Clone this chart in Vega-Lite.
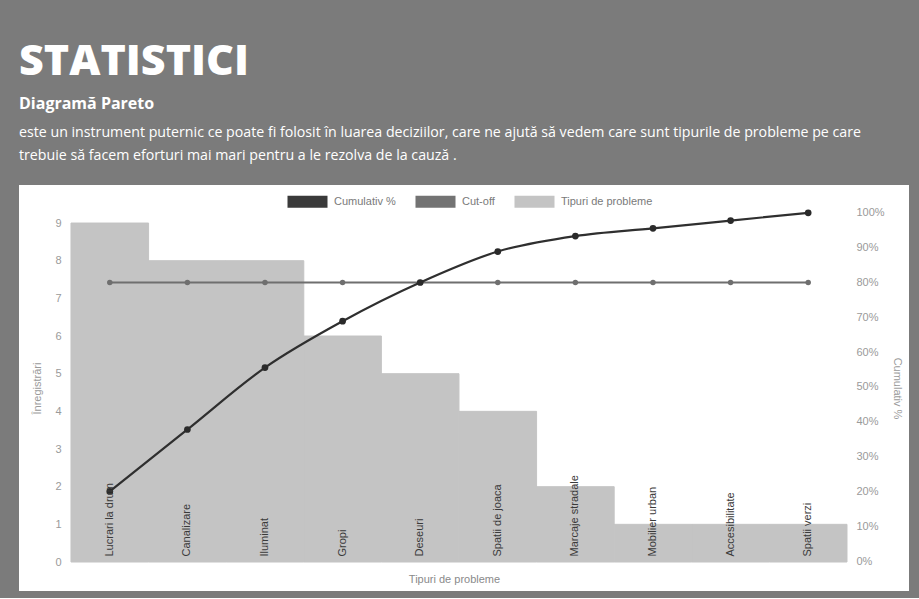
{
  "$schema": "https://vega.github.io/schema/vega-lite/v6.json",
  "background": "#7b7b7b",
  "padding": {"left": 19, "top": 40, "right": 10, "bottom": 7},
  "title": {"text": "STATISTICI", "anchor": "start", "font": "Open Sans", "fontSize": 43, "fontWeight": 800, "color": "#ffffff", "offset": 12, "baseline": "top"},
  "config": {"view": {"fill": "#ffffff", "stroke": null}, "concat": {"spacing": 0}},
  "vconcat": [
    {
      "title": {
        "text": "Diagramă Pareto",
        "subtitle": ["este un instrument puternic ce poate fi folosit în luarea deciziilor, care ne ajută să vedem care sunt tipurile de probleme pe care", "trebuie să facem eforturi mai mari pentru a le rezolva de la cauză ."],
        "anchor": "start", "baseline": "top", "font": "Open Sans", "fontSize": 16, "fontWeight": 700, "color": "#ffffff",
        "subtitleFont": "Open Sans", "subtitleFontSize": 14.2, "subtitleColor": "#ffffff", "subtitleLineHeight": 23, "subtitlePadding": 14, "offset": 22
      },
      "width": 890,
      "height": 406,
      "data": {"values": [
        {"cat": "Lucrari la drum", "count": 9, "cum": 20.0, "cut": 80},
        {"cat": "Canalizare", "count": 8, "cum": 37.78, "cut": 80},
        {"cat": "Iluminat", "count": 8, "cum": 55.56, "cut": 80},
        {"cat": "Gropi", "count": 6, "cum": 68.89, "cut": 80},
        {"cat": "Deseuri", "count": 5, "cum": 80.0, "cut": 80},
        {"cat": "Spatii de joaca", "count": 4, "cum": 88.89, "cut": 80},
        {"cat": "Marcaje stradale", "count": 2, "cum": 93.33, "cut": 80},
        {"cat": "Mobilier urban", "count": 1, "cum": 95.56, "cut": 80},
        {"cat": "Accesibilitate", "count": 1, "cum": 97.78, "cut": 80},
        {"cat": "Spatii verzi", "count": 1, "cum": 100.0, "cut": 80}
      ]},
      "encoding": {
        "x": {
          "field": "cat", "type": "nominal", "sort": null,
          "scale": {"paddingInner": 0, "paddingOuter": 0.7345, "align": 0.456},
          "axis": {
            "orient": "bottom", "offset": -29, "zindex": 1, "labelAngle": -90, "labelAlign": "left", "labelBaseline": "middle", "labelPadding": -6,
            "ticks": false, "domain": false, "grid": false, "labelOverlap": false, "labelLimit": 0,
            "labelFont": "Liberation Sans", "labelFontSize": 11, "labelColor": "#3a3a3a",
            "title": "Tipuri de probleme", "titleFont": "Liberation Sans", "titleFontSize": 11, "titleFontWeight": "normal", "titleColor": "#8a8a8a",
            "titleX": 435, "titleY": 17, "titleAlign": "center", "titleBaseline": "middle"
          }
        }
      },
      "layer": [
        {
          "mark": {"type": "bar", "stroke": "#c4c4c4", "strokeWidth": 1},
          "encoding": {
            "y": {
              "field": "count", "type": "quantitative",
              "scale": {"domain": [-0.77, 10.01], "nice": false, "zero": false},
              "axis": {
                "orient": "left", "offset": -50, "values": [0, 1, 2, 3, 4, 5, 6, 7, 8, 9], "grid": false, "domain": false, "ticks": false,
                "labelPadding": 8, "labelFont": "Liberation Sans", "labelFontSize": 11, "labelColor": "#9a9a9a",
                "title": "Înregistrări", "titleFont": "Liberation Sans", "titleFontSize": 11, "titleFontWeight": "normal", "titleColor": "#9a9a9a",
                "titleX": -32, "titleY": 203, "titleAngle": -90, "titleAlign": "center", "titleBaseline": "middle"
              }
            },
            "y2": {"datum": 0},
            "color": {
              "datum": "Tipuri de probleme",
              "scale": {"domain": ["Cumulativ %", "Cut-off", "Tipuri de probleme"], "range": ["#3a3a3a", "#737373", "#c4c4c4"]},
              "legend": {
                "orient": "none", "legendX": 283, "legendY": 11, "direction": "horizontal", "title": null,
                "symbolType": "M-4,-1.2H4V1.2H-4Z", "symbolSize": 100, "symbolStrokeWidth": 0, "labelOffset": 21, "columnPadding": 19,
                "labelFont": "Liberation Sans", "labelFontSize": 11, "labelColor": "#7a7a7a"
              }
            }
          }
        },
        {
          "layer": [
            {
              "mark": {"type": "line", "color": "#6f6f6f", "strokeWidth": 2},
              "encoding": {
                "y": {"field": "cut", "type": "quantitative", "scale": {"domain": [-8.6, 108], "nice": false, "zero": false},
                  "axis": {
                    "orient": "right", "offset": -60, "values": [0, 10, 20, 30, 40, 50, 60, 70, 80, 90, 100], "labelExpr": "datum.value + '%'",
                    "grid": false, "domain": false, "ticks": false, "labelPadding": 7,
                    "labelFont": "Liberation Sans", "labelFontSize": 11, "labelColor": "#9a9a9a",
                    "title": "Cumulativ %", "titleFont": "Liberation Sans", "titleFontSize": 11, "titleFontWeight": "normal", "titleColor": "#9a9a9a",
                    "titleX": 47, "titleY": 203, "titleAngle": 90, "titleAlign": "center", "titleBaseline": "middle"
                  }
                }
              }
            },
            {
              "mark": {"type": "circle", "color": "#6f6f6f", "size": 30, "opacity": 1},
              "encoding": {
                "y": {"field": "cut", "type": "quantitative", "scale": {"domain": [-8.6, 108], "nice": false, "zero": false},
                  "axis": {
                    "orient": "right", "offset": -60, "values": [0, 10, 20, 30, 40, 50, 60, 70, 80, 90, 100], "labelExpr": "datum.value + '%'",
                    "grid": false, "domain": false, "ticks": false, "labelPadding": 7,
                    "labelFont": "Liberation Sans", "labelFontSize": 11, "labelColor": "#9a9a9a",
                    "title": "Cumulativ %", "titleFont": "Liberation Sans", "titleFontSize": 11, "titleFontWeight": "normal", "titleColor": "#9a9a9a",
                    "titleX": 47, "titleY": 203, "titleAngle": 90, "titleAlign": "center", "titleBaseline": "middle"
                  }
                }
              }
            },
            {
              "mark": {"type": "line", "color": "#2f2f2f", "strokeWidth": 2.2, "interpolate": "monotone"},
              "encoding": {
                "y": {"field": "cum", "type": "quantitative", "scale": {"domain": [-8.6, 108], "nice": false, "zero": false},
                  "axis": {
                    "orient": "right", "offset": -60, "values": [0, 10, 20, 30, 40, 50, 60, 70, 80, 90, 100], "labelExpr": "datum.value + '%'",
                    "grid": false, "domain": false, "ticks": false, "labelPadding": 7,
                    "labelFont": "Liberation Sans", "labelFontSize": 11, "labelColor": "#9a9a9a",
                    "title": "Cumulativ %", "titleFont": "Liberation Sans", "titleFontSize": 11, "titleFontWeight": "normal", "titleColor": "#9a9a9a",
                    "titleX": 47, "titleY": 203, "titleAngle": 90, "titleAlign": "center", "titleBaseline": "middle"
                  }
                }
              }
            },
            {
              "mark": {"type": "circle", "color": "#2a2a2a", "size": 45, "opacity": 1},
              "encoding": {
                "y": {"field": "cum", "type": "quantitative", "scale": {"domain": [-8.6, 108], "nice": false, "zero": false},
                  "axis": {
                    "orient": "right", "offset": -60, "values": [0, 10, 20, 30, 40, 50, 60, 70, 80, 90, 100], "labelExpr": "datum.value + '%'",
                    "grid": false, "domain": false, "ticks": false, "labelPadding": 7,
                    "labelFont": "Liberation Sans", "labelFontSize": 11, "labelColor": "#9a9a9a",
                    "title": "Cumulativ %", "titleFont": "Liberation Sans", "titleFontSize": 11, "titleFontWeight": "normal", "titleColor": "#9a9a9a",
                    "titleX": 47, "titleY": 203, "titleAngle": 90, "titleAlign": "center", "titleBaseline": "middle"
                  }
                }
              }
            }
          ]
        }
      ],
      "resolve": {"scale": {"y": "independent"}}
    }
  ]
}
